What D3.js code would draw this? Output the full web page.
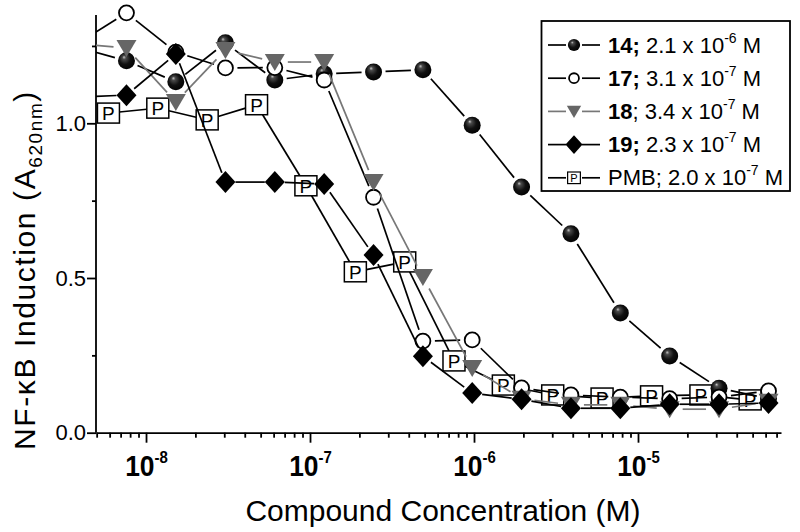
<!DOCTYPE html>
<html>
<head>
<meta charset="utf-8">
<script src="https://cdn.jsdelivr.net/npm/d3@7"></script>
<style>
  body { margin: 0; background: #fff; }
  svg { display: block; font-family: "Liberation Sans", Arial, sans-serif; }
</style>
</head>
<body>
<svg width="800" height="532"></svg>
<script>
// concentrations (M), two-fold dilutions
const conc = [3.8e-9, 7.6e-9, 1.52e-8, 3.05e-8, 6.1e-8, 1.22e-7, 2.44e-7, 4.88e-7,
  9.75e-7, 1.95e-6, 3.9e-6, 7.8e-6, 1.56e-5, 3.12e-5, 6.25e-5];
const concPMB = [5.9e-9, 1.18e-8, 2.36e-8, 4.72e-8, 9.44e-8, 1.89e-7, 3.78e-7,
  7.55e-7, 1.51e-6, 3.02e-6, 6.04e-6, 1.21e-5, 2.42e-5, 4.83e-5];

const y14 = [1.246, 1.202, 1.134, 1.26, 1.14, 1.16, 1.166, 1.173, 0.994, 0.794, 0.643, 0.387, 0.248, 0.144, 0.11];
const y17 = [1.257, 1.357, 1.23, 1.179, 1.18, 1.14, 0.761, 0.296, 0.3, 0.145, 0.122, 0.115, 0.11, 0.115, 0.135];
const y18 = [1.257, 1.243, 1.069, 1.237, 1.198, 1.198, 0.81, 0.503, 0.209, 0.11, 0.09, 0.09, 0.076, 0.076, 0.1];
const y19 = [1.085, 1.091, 1.224, 0.81, 0.81, 0.804, 0.574, 0.247, 0.128, 0.108, 0.079, 0.079, 0.092, 0.092, 0.096];
const yPMB = [1.033, 1.049, 1.011, 1.06, 0.798, 0.52, 0.552, 0.232, 0.154, 0.122, 0.112, 0.119, 0.122, 0.106];

const legendIds = ["14", "17", "18", "19", "PMB"];
const legendCoef = ["2.1", "3.1", "3.4", "2.3", "2.0"];
const legendExp = ["-6", "-7", "-7", "-7", "-7"];

const majorTicks = [1e-8, 1e-7, 1e-6, 1e-5];
const majorExp = ["-8", "-7", "-6", "-5"];
const yTicks = [0, 0.5, 1.0];
const yMinor = [0.25, 0.75, 1.25];

const series = [
  { key: "14", x: conc, y: y14, sym: "ball", color: "#000", gap: 12 },
  { key: "17", x: conc, y: y17, sym: "open", color: "#000", gap: 12 },
  { key: "18", x: conc, y: y18, sym: "tri", color: "#777", gap: 13 },
  { key: "19", x: conc, y: y19, sym: "dia", color: "#000", gap: 10 },
  { key: "PMB", x: concPMB, y: yPMB, sym: "pbox", color: "#000", gap: 0 }
];
const drawOrder = ["PMB", "14", "17", "18", "19"];

(function () {
  const svg = d3.select("svg");
  const pLeft = 96, pRight = 781, pBottom = 432.7, pTop = 15;

  const xScale = d3.scaleLog()
    .domain([Math.pow(10, -8.305), Math.pow(10, -4.128)])
    .range([pLeft, pRight]);
  const yScale = d3.scaleLinear().domain([0, 1.35]).range([pBottom, pTop]);

  const defs = svg.append("defs");
  const grad = defs.append("radialGradient").attr("id", "ball")
    .attr("cx", 0.45).attr("cy", 0.45).attr("r", 0.6)
    .attr("fx", 0.35).attr("fy", 0.28);
  grad.append("stop").attr("offset", 0).attr("stop-color", "#c8c8c8");
  grad.append("stop").attr("offset", 0.18).attr("stop-color", "#4a4a4a");
  grad.append("stop").attr("offset", 0.55).attr("stop-color", "#111");
  grad.append("stop").attr("offset", 1).attr("stop-color", "#000");
  defs.append("clipPath").attr("id", "plot")
    .append("rect").attr("x", pLeft).attr("y", 0).attr("width", 800 - pLeft).attr("height", 532);

  function marker(g, sym, s) {
    if (sym === "ball") {
      g.append("circle").attr("r", 8.5 * s).attr("fill", "url(#ball)");
    } else if (sym === "open") {
      g.append("circle").attr("r", 7.5 * s).attr("fill", "#fff")
        .attr("stroke", "#000").attr("stroke-width", 1.8);
    } else if (sym === "tri") {
      g.append("path").attr("d", `M${-10 * s},${-8 * s}L${10 * s},${-8 * s}L0,${9 * s}Z`)
        .attr("fill", "#666");
    } else if (sym === "dia") {
      g.append("path").attr("d", `M0,${-11 * s}L${10 * s},0L0,${11 * s}L${-10 * s},0Z`)
        .attr("fill", "#000");
    } else if (sym === "pbox") {
      g.append("rect").attr("x", -11 * s).attr("y", -10 * s)
        .attr("width", 22 * s).attr("height", 20 * s)
        .attr("fill", "#fff").attr("stroke", "#000").attr("stroke-width", s < 1 ? 1.2 : 1.5);
      g.append("text").attr("text-anchor", "middle").attr("y", 7 * s)
        .attr("font-size", 19 * s).text("P");
    }
  }

  // axes
  const xMajor = d3.axisBottom(xScale).tickValues(majorTicks).tickSize(10)
    .tickSizeOuter(0).tickFormat("");
  const minorVals = [];
  for (let e = -9; e <= -5; e++) for (let m = 2; m <= 9; m++) {
    const v = m * Math.pow(10, e);
    if (v >= xScale.domain()[0] && v <= xScale.domain()[1]) minorVals.push(v);
  }
  const xMinor = d3.axisBottom(xScale).tickValues(minorVals).tickSize(5)
    .tickSizeOuter(0).tickFormat("");

  const xAxisG = svg.append("g").attr("transform", `translate(0,${pBottom})`).call(xMajor);
  svg.append("g").attr("transform", `translate(0,${pBottom})`).call(xMinor)
    .select(".domain").remove();

  xAxisG.selectAll(".tick").append("text")
    .attr("y", 43).attr("fill", "#000").attr("text-anchor", "middle")
    .attr("font-weight", "bold").attr("transform", "scale(0.88,1)")
    .each(function (d, i) {
      const t = d3.select(this);
      t.append("tspan").attr("font-size", 30).text("10");
      t.append("tspan").attr("font-size", 17).attr("dy", -13).text(majorExp[i]);
    });

  const yAxisG = svg.append("g").attr("transform", `translate(${pLeft},0)`)
    .call(d3.axisLeft(yScale).tickValues(yTicks).tickSize(9).tickSizeOuter(0)
      .tickFormat(d3.format(".1f")));
  yAxisG.select(".domain").remove();
  yAxisG.append("path").attr("class", "domain").attr("d", `M0,${pTop}V${pBottom}`);
  svg.append("g").attr("transform", `translate(${pLeft},0)`)
    .call(d3.axisLeft(yScale).tickValues(yMinor).tickSize(4).tickFormat(""))
    .select(".domain").remove();
  svg.selectAll(".tick line, .domain").attr("stroke", "#000").attr("stroke-width", 1.8)
    .attr("fill", "none");
  yAxisG.selectAll(".tick text").attr("font-size", 22).attr("fill", "#000")
    .attr("x", -10).attr("font-family", "inherit");

  // axis titles
  svg.append("text").attr("x", 443).attr("y", 521).attr("text-anchor", "middle")
    .attr("font-size", 30).text("Compound Concentration (M)");

  const yt = svg.append("text").attr("transform", "translate(35,270) rotate(-90)")
    .attr("text-anchor", "middle").attr("font-size", 30).attr("letter-spacing", 1.6);
  yt.append("tspan").text("NF-\u03BAB Induction (A");
  yt.append("tspan").attr("font-size", 19).attr("dy", 7).text("620nm");
  yt.append("tspan").attr("dy", -7).text(")");

  // data
  const plot = svg.append("g").attr("clip-path", "url(#plot)");
  drawOrder.forEach((k) => {
    const s = series.find((d) => d.key === k);
    const pts = s.x.map((c, i) => [xScale(c), yScale(s.y[i])]);
    const segs = d3.pairs(pts).map(([a, b]) => {
      const dx = b[0] - a[0], dy = b[1] - a[1];
      const len = Math.hypot(dx, dy);
      const ux = dx / len, uy = dy / len;
      let g = s.gap;
      if (s.sym === "pbox") g = Math.min(11 / Math.abs(ux || 1e-9), 10 / Math.abs(uy || 1e-9));
      return [a[0] + ux * g, a[1] + uy * g, b[0] - ux * g, b[1] - uy * g];
    });
    plot.append("g").selectAll("line").data(segs).join("line")
      .attr("x1", (d) => d[0]).attr("y1", (d) => d[1])
      .attr("x2", (d) => d[2]).attr("y2", (d) => d[3])
      .attr("stroke", s.color).attr("stroke-width", 1.7);
    plot.append("g").selectAll("g").data(pts).join("g")
      .attr("transform", (d) => `translate(${d[0]},${d[1]})`)
      .each(function () { marker(d3.select(this), s.sym, 1); });
  });

  // legend
  const lg = svg.append("g");
  lg.append("rect").attr("x", 541.5).attr("y", 21).attr("width", 248.5).attr("height", 170)
    .attr("fill", "#fff").attr("stroke", "#000").attr("stroke-width", 1.8);
  const legendScale = { ball: 0.72, open: 0.66, tri: 0.72, dia: 0.85, pbox: 0.58 };
  series.forEach((s, i) => {
    const cy = 45 + i * 33.2;
    const row = lg.append("g").attr("transform", `translate(574,${cy})`);
    row.append("line").attr("x1", -26).attr("x2", -8).attr("stroke", s.color).attr("stroke-width", 1.7);
    row.append("line").attr("x1", 8).attr("x2", 26).attr("stroke", s.color).attr("stroke-width", 1.7);
    marker(row.append("g"), s.sym, legendScale[s.sym]);
    const t = lg.append("text").attr("x", 608).attr("y", cy + 7.5).attr("font-size", 22);
    if (s.key === "PMB") {
      t.append("tspan").text(legendIds[i] + ";");
    } else {
      t.append("tspan").attr("font-weight", "bold").text(legendIds[i] + (s.key === "18" ? "" : ";"));
      if (s.key === "18") t.append("tspan").text(";");
    }
    t.append("tspan").text(" " + legendCoef[i] + " x 10");
    t.append("tspan").attr("font-size", 14).attr("dy", -10).text(legendExp[i]);
    t.append("tspan").attr("dy", 10).text(" M");
  });
})();
</script>
</body>
</html>
